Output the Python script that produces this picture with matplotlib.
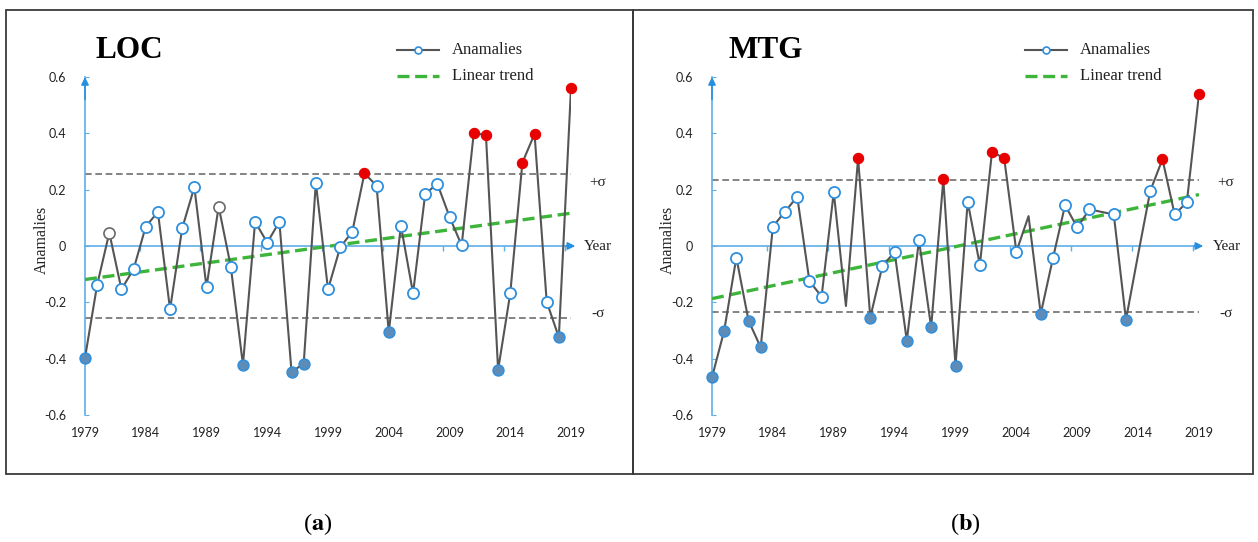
import numpy as np
import matplotlib
matplotlib.use("Agg")
import matplotlib.pyplot as plt
from matplotlib.lines import Line2D
from matplotlib.patches import Rectangle

# ---- data -------------------------------------------------------------
years = list(range(1979, 2020))

loc_anomaly = [-0.397, -0.138, 0.047, -0.154, -0.082, 0.069, 0.121, -0.225, 0.063, 0.209,
               -0.146, 0.140, -0.073, -0.422, 0.086, 0.012, 0.086, -0.447, -0.418, 0.225,
               -0.154, -0.005, 0.051, 0.258, 0.214, -0.306, 0.072, -0.168, 0.185, 0.221,
               0.104, 0.002, 0.402, 0.393, -0.440, -0.168, 0.296, 0.398, -0.198, -0.324, 0.560]
loc_sigma = 0.255
loc_grey_years = [1981, 1990]
loc_unmarked_years = []

mtg_anomaly = [-0.466, -0.301, -0.041, -0.265, -0.360, 0.069, 0.122, 0.175, -0.124, -0.180,
               0.191, -0.213, 0.312, -0.254, -0.070, -0.022, -0.336, 0.021, -0.289, 0.237,
               -0.426, 0.157, -0.067, 0.335, 0.311, -0.020, 0.106, -0.241, -0.044, 0.145,
               0.066, 0.130, 0.121, 0.112, -0.262, -0.030, 0.196, 0.308, 0.112, 0.155, 0.540]
mtg_sigma = 0.235
mtg_grey_years = []
mtg_unmarked_years = [1990, 2005, 2011, 2014]

year_ticks = list(range(1979, 2020, 5))
y_ticks = [-0.6, -0.4, -0.2, 0.0, 0.2, 0.4, 0.6]
y_tick_labels = ["-0.6", "-0.4", "-0.2", "0", "0.2", "0.4", "0.6"]

# ---- style ------------------------------------------------------------
W, H = 1258, 542
SERIF = "Liberation Serif"
SANS = "Lato"
AXIS_BLUE = "#5FAEE6"
ARROW_BLUE = "#2590E0"
MARK_BLUE = "#2F8FDD"
FILL_BLUE = "#5E8CB8"
RED = "#E80000"
LINE_GREY = "#555555"
SIGMA_GREY = "#6E6E6E"
GREEN = "#3DB53A"

fig = plt.figure(figsize=(W / 100, H / 100), dpi=100)
fig.patch.set_facecolor("white")


def fx(px):
    return px / W


def fy(py):
    return 1 - py / H


def panel(x0, x1, title, title_x, values, sigma, grey_years, unmarked_years,
          legend_x, ylabel_x, sub_label, sub_x):
    ax = fig.add_axes([fx(x0), fy(415), (x1 - x0) / W, (415 - 77) / H])
    ax.set_facecolor("none")
    ax.set_xlim(1979, 2019)
    ax.set_ylim(-0.6, 0.6)
    for s in ("top", "right", "bottom"):
        ax.spines[s].set_visible(False)
    ax.spines["left"].set_color(AXIS_BLUE)
    ax.spines["left"].set_linewidth(1.2)

    ax.set_yticks(y_ticks)
    ax.set_yticklabels(y_tick_labels, fontfamily=SANS, fontsize=9, color="#222222")
    ax.tick_params(axis="y", direction="in", length=3, color=AXIS_BLUE, pad=13.5)
    ax.set_xticks(year_ticks)
    ax.set_xticklabels([str(y) for y in year_ticks], fontfamily=SANS, fontsize=9,
                       color="#222222")
    ax.tick_params(axis="x", length=0, pad=8.5)

    # y axis arrowhead
    ax.annotate("", xy=(1979, 0.6), xytext=(1979, 0.52),
                arrowprops=dict(arrowstyle="-|>", color=ARROW_BLUE, lw=1.2,
                                mutation_scale=11, shrinkA=0, shrinkB=0),
                annotation_clip=False)
    # x axis at zero with arrowhead
    ax.plot([1979, 2018.8], [0, 0], color=AXIS_BLUE, lw=1.2, clip_on=False, zorder=1)
    ax.annotate("", xy=(2019.35, 0), xytext=(2018.6, 0),
                arrowprops=dict(arrowstyle="-|>", color=ARROW_BLUE, lw=1.2,
                                mutation_scale=11, shrinkA=0, shrinkB=0),
                annotation_clip=False)
    tick_pos = [y + 4.5 for y in year_ticks[:-1]]
    ax.plot(tick_pos, [0] * len(tick_pos), ls="none", marker=3, ms=3.5,
            mew=1.0, color=AXIS_BLUE, clip_on=False)

    # +/- sigma bands
    for s in (sigma, -sigma):
        ax.plot([1979, 2019], [s, s], color=SIGMA_GREY, lw=1.2, ls=(0, (4, 2.2)),
                zorder=2)

    # linear trend
    yrs = np.array(years, dtype=float)
    vals = np.array(values)
    slope, icpt = np.polyfit(yrs, vals, 1)
    ends = np.array([1979.0, 2019.0])
    ax.plot(ends, slope * ends + icpt, color=GREEN, lw=2.4, ls=(0, (3.6, 1.7)), zorder=3)

    # anomaly line and markers
    ax.plot(years, values, color=LINE_GREY, lw=1.5, zorder=4)
    for y, v in zip(years, values):
        if y in unmarked_years:
            continue
        if v > sigma:
            kw = dict(marker="o", ms=7.4, mfc=RED, mec=RED, mew=0.8)
        elif v < -sigma:
            kw = dict(marker="o", ms=7.8, mfc=FILL_BLUE, mec=MARK_BLUE, mew=1.1)
        elif y in grey_years:
            kw = dict(marker="o", ms=8.0, mfc="white", mec="#6A6A6A", mew=1.2)
        else:
            kw = dict(marker="o", ms=8.0, mfc="white", mec=MARK_BLUE, mew=1.3)
        ax.plot([y], [v], ls="none", zorder=5, clip_on=False, **kw)

    # annotations to the right of the axis
    ax.text(2020.5, 0.224, "+σ", fontfamily=SERIF, fontsize=11, va="center",
            ha="left", color="#222222")
    ax.text(2020.1, 0.0, "Year", fontfamily=SERIF, fontsize=11, va="center",
            ha="left", color="#222222")
    ax.text(2020.7, -0.24, "-σ", fontfamily=SERIF, fontsize=11, va="center",
            ha="left", color="#222222")

    # title, y label, legend
    fig.text(fx(title_x), fy(50), title, fontfamily=SERIF, fontweight="bold",
             fontsize=22.5, va="center", ha="left")
    fig.text(fx(ylabel_x), fy(240), "Anamalies", fontfamily=SERIF, fontsize=11.5,
             rotation=90, va="center", ha="center", color="#222222")

    lx0, lx1 = legend_x, legend_x + 42
    fig.add_artist(Line2D([fx(lx0), fx(lx1)], [fy(50), fy(50)], color=LINE_GREY, lw=1.5,
                          transform=fig.transFigure))
    fig.add_artist(Line2D([fx((lx0 + lx1) / 2)], [fy(50)], marker="o", ms=5, mfc="white",
                          mec=MARK_BLUE, mew=1.2, ls="none", transform=fig.transFigure))
    fig.add_artist(Line2D([fx(lx0), fx(lx1)], [fy(76), fy(76)], color=GREEN, lw=2.4,
                          ls=(0, (3.6, 1.7)), transform=fig.transFigure))
    fig.text(fx(lx0 + 55), fy(50), "Anamalies", fontfamily=SERIF, fontsize=12,
             va="center", ha="left", color="#222222")
    fig.text(fx(lx0 + 55), fy(76), "Linear trend", fontfamily=SERIF, fontsize=12,
             va="center", ha="left", color="#222222")

    fig.text(fx(sub_x), fy(524), "(" + r"$\mathbf{" + sub_label + "}$" + ")",
             fontfamily=SERIF, math_fontfamily="stix", fontsize=17.5,
             va="center", ha="center")
    return ax


panel(85, 571, "LOC", 96, loc_anomaly, loc_sigma, loc_grey_years, loc_unmarked_years,
      397, 42, "a", 318)
panel(712, 1199, "MTG", 729, mtg_anomaly, mtg_sigma, mtg_grey_years, mtg_unmarked_years,
      1025, 668, "b", 965)

# panel frames
for x0, x1 in ((6, 633), (633, 1253)):
    fig.add_artist(Rectangle((fx(x0), fy(474)), (x1 - x0) / W, (474 - 10) / H,
                             transform=fig.transFigure, fill=False, ec="#3A3A3A", lw=1.3))

fig.savefig("out.png", dpi=100)
